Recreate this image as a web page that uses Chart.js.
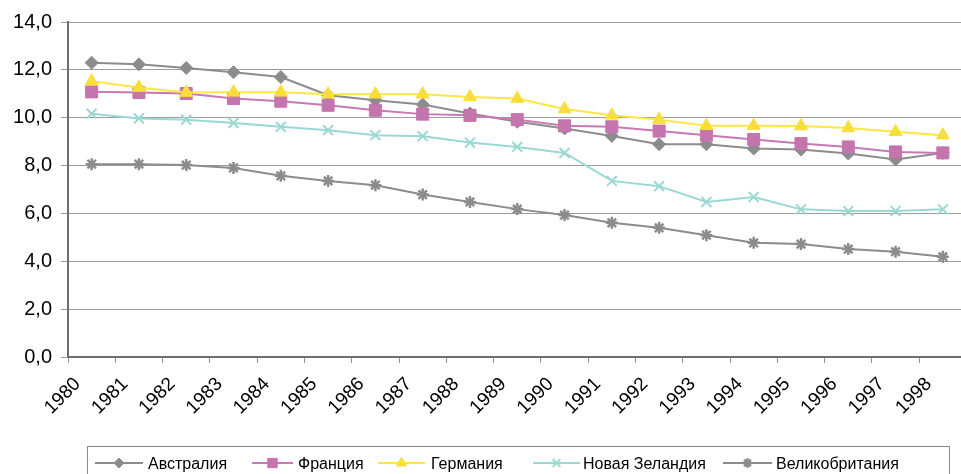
<!DOCTYPE html>
<html>
<head>
<meta charset="utf-8">
<script src="https://cdn.jsdelivr.net/npm/chart.js@4/dist/chart.umd.min.js"></script>
<style>
  html, body { margin: 0; padding: 0; background: #fff; overflow: hidden; }
  #wrap { width: 976px; height: 474px; position: relative; }
</style>
</head>
<body>
<div id="wrap"><canvas id="c" width="976" height="474"></canvas></div>
<script>
// Years on the category axis
const years = ['1980','1981','1982','1983','1984','1985','1986','1987','1988','1989',
               '1990','1991','1992','1993','1994','1995','1996','1997','1998'];

// Series values, one array per country
const australia  = [12.30,12.23,12.08,11.90,11.70,10.94,10.73,10.55,10.18,9.83,9.55,9.24,8.89,8.89,8.71,8.67,8.50,8.25,8.53];
const france     = [11.08,11.05,11.01,10.80,10.69,10.52,10.31,10.15,10.10,9.92,9.66,9.62,9.44,9.27,9.09,8.92,8.78,8.57,8.53];
const germany    = [11.52,11.26,11.05,11.06,11.06,10.98,10.98,10.98,10.87,10.80,10.36,10.10,9.92,9.66,9.66,9.65,9.57,9.41,9.27];
const newZealand = [10.17,9.97,9.92,9.78,9.62,9.48,9.27,9.23,8.96,8.78,8.53,7.36,7.14,6.48,6.69,6.17,6.10,6.10,6.17];
const britain    = [8.06,8.06,8.02,7.90,7.57,7.36,7.18,6.79,6.48,6.18,5.93,5.61,5.40,5.09,4.77,4.72,4.51,4.40,4.19];

// Series names (legend text)
const seriesNames = ['Австралия', 'Франция', 'Германия', 'Новая Зеландия', 'Великобритания'];

// Value axis range
const yMin = 0, yMax = 14, yStep = 2;

const FONT = '"Liberation Sans", Arial, sans-serif';

// Per-series look
const styles = [
  { color: '#8c8c8c', fill: '#8c8c8c', pointStyle: 'rectRot',  radius: 6.5, bw: 1 },
  { color: '#c878b4', fill: '#c475ad', pointStyle: 'rect',     radius: 8.5, bw: 1 },
  { color: '#ffe640', fill: '#f8de3c', pointStyle: 'triangle', radius: 7.5, bw: 1 },
  { color: '#9ad9d3', fill: '#9ad9d3', pointStyle: 'crossRot', radius: 7,   bw: 2 },
  { color: '#8c8c8c', fill: '#8c8c8c', pointStyle: 'star',     radius: 6,   bw: 2.5 }
];

const values = [australia, france, germany, newZealand, britain];

const datasets = values.map((data, i) => ({
  label: seriesNames[i],
  data: data,
  borderColor: styles[i].color,
  borderWidth: 2,
  pointStyle: styles[i].pointStyle,
  pointRadius: styles[i].radius,
  pointBackgroundColor: styles[i].fill,
  pointBorderColor: styles[i].fill,
  pointBorderWidth: styles[i].bw,
  tension: 0,
  fill: false,
  order: values.length - i
}));

// Legend placement: line start/end, text start
const legendLayout = {
  box: { x: 87.5, y: 446.5, w: 862, h: 40 },
  rowY: 463,
  items: [
    { x0: 95,  x1: 143, text: 148 },
    { x0: 252, x1: 293, text: 298 },
    { x0: 378, x1: 425, text: 431 },
    { x0: 533, x1: 580, text: 583 },
    { x0: 723, x1: 772, text: 776 }
  ]
};

const legendPlugin = {
  id: 'boxLegend',
  afterDraw(chart) {
    const ctx = chart.ctx;
    const L = legendLayout;
    ctx.save();
    ctx.strokeStyle = '#8a8a8a';
    ctx.lineWidth = 1;
    ctx.strokeRect(L.box.x, L.box.y, L.box.w, L.box.h);
    ctx.font = '16px ' + FONT;
    ctx.textBaseline = 'alphabetic';
    ctx.textAlign = 'left';
    chart.data.datasets.forEach((ds, i) => {
      const it = L.items[i];
      const st = styles[i];
      ctx.strokeStyle = st.color;
      ctx.lineWidth = 2;
      ctx.beginPath();
      ctx.moveTo(it.x0, L.rowY);
      ctx.lineTo(it.x1, L.rowY);
      ctx.stroke();
      ctx.fillStyle = st.fill;
      ctx.strokeStyle = st.fill;
      ctx.lineWidth = st.bw;
      Chart.helpers.drawPoint(ctx, {
        pointStyle: st.pointStyle,
        radius: st.radius * 0.78,
        rotation: 0,
        borderWidth: st.bw
      }, (it.x0 + it.x1) / 2, L.rowY);
      ctx.fillStyle = '#000';
      ctx.fillText(ds.label, it.text, L.rowY + 5.5);
    });
    ctx.restore();
  }
};

new Chart(document.getElementById('c'), {
  type: 'line',
  data: { labels: years, datasets: datasets },
  plugins: [legendPlugin],
  options: {
    responsive: false,
    animation: false,
    devicePixelRatio: 1,
    layout: { padding: { top: 22, left: 0, right: 0, bottom: 0 } },
    plugins: { legend: { display: false }, tooltip: { enabled: false } },
    scales: {
      x: {
        type: 'category',
        offset: true,
        grid: { display: true, drawOnChartArea: false, drawTicks: true, tickLength: 6, color: '#909090', offset: true },
        border: { display: true, color: '#6e6e6e', width: 2 },
        ticks: {
          autoSkip: false, maxRotation: 45, minRotation: 45,
          color: '#000', font: { family: FONT, size: 19 },
          padding: 10, labelOffset: -14
        },
        afterFit(scale) {
          scale.height = 117;
          scale.paddingLeft = 0;
          scale.paddingRight = 0;
        }
      },
      y: {
        min: yMin, max: yMax,
        grid: { color: '#9c9c9c', tickLength: 7, lineWidth: 1 },
        border: { display: true, color: '#6e6e6e', width: 2 },
        ticks: {
          stepSize: yStep, color: '#000', padding: 9,
          font: { family: FONT, size: 20 },
          callback: v => v.toFixed(1).replace('.', ',')
        },
        afterFit(scale) { scale.width = 68; }
      }
    }
  }
});
</script>
</body>
</html>
